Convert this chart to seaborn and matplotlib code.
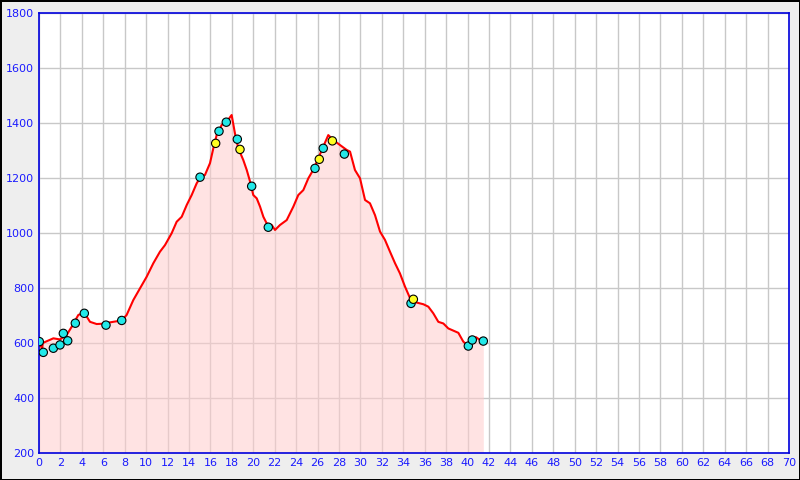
import matplotlib
matplotlib.use('Agg')
import matplotlib.pyplot as plt
import numpy as np
import pandas as pd
import seaborn as sns

# perfil de altura (km, m)
km = [0, 0.3, 0.35, 1.34, 1.96, 2.58, 3.05, 3.67, 4.23, 4.76, 5.38, 5.9, 6.93, 7.72, 8.18, 8.8,
      9.43, 10.05, 10.67, 11.29, 11.76, 12.38, 12.85, 13.32, 13.79, 14.25, 14.72, 15.03, 15.49,
      15.96, 16.27, 16.58, 17.05, 17.52, 17.98, 18.29, 18.6, 19.07, 19.39, 19.7, 20.0, 20.32,
      20.63, 20.94, 21.25, 21.72, 22.03, 22.49, 23.12, 23.74, 24.2, 24.67, 25.14, 25.6, 26.07,
      26.53, 27.0, 27.47, 28.09, 28.72, 29.03, 29.49, 29.96, 30.43, 30.89, 31.36, 31.83, 32.29,
      32.76, 33.23, 33.69, 34.16, 34.63, 35.25, 35.87, 36.34, 36.8, 37.27, 37.74, 38.2, 38.67,
      39.14, 39.6, 40.07, 40.38, 40.79, 41.16, 41.47]
altura = [605, 578, 600, 617, 613, 629, 659, 702, 710, 677, 669, 670, 677, 682, 702, 756,
          799, 841, 890, 932, 956, 999, 1041, 1059, 1102, 1138, 1181, 1200, 1211,
          1254, 1308, 1356, 1393, 1405, 1429, 1362, 1308, 1265, 1229, 1187, 1138, 1126,
          1096, 1059, 1035, 1029, 1011, 1029, 1047, 1096, 1138, 1156, 1199, 1230, 1272,
          1314, 1356, 1338, 1320, 1302, 1296, 1229, 1199, 1120, 1108, 1065, 1005, 975,
          932, 890, 853, 805, 763, 747, 741, 732, 708, 677, 671, 653, 645,
          637, 605, 589, 611, 621, 611, 607]

# puntos de paso
km_cian = [0.03, 0.4, 1.34, 1.96, 2.27, 2.68, 3.39, 4.23, 6.25, 7.72, 15.03, 16.8, 17.48,
           18.51, 19.85, 21.4, 25.76, 26.53, 28.5, 34.72, 40.07, 40.44, 41.47]
alt_cian = [605, 566, 581, 593, 635, 608, 672, 708, 665, 682, 1203, 1370, 1403,
            1341, 1170, 1021, 1235, 1308, 1287, 744, 589, 611, 607]
km_amarillo = [16.49, 18.76, 26.16, 27.38, 34.94]
alt_amarillo = [1326, 1304, 1268, 1335, 759]

perfil = pd.DataFrame({'km': km, 'altura': altura})
puntos = pd.DataFrame({'km': km_cian + km_amarillo,
                       'altura': alt_cian + alt_amarillo,
                       'tipo': ['cian'] * len(km_cian) + ['amarillo'] * len(km_amarillo)})

sns.set_style('white')
fig = plt.figure(figsize=(8, 4.8), dpi=100, facecolor='#eeeeee',
                 edgecolor='black', linewidth=1)
ax = fig.add_axes([39 / 800, 27 / 480, 750 / 800, 440 / 480])
ax.set_facecolor('white')

ax.fill_between(perfil['km'], perfil['altura'], 200, color='#ffcccc', alpha=0.55,
                linewidth=0, zorder=1)
sns.lineplot(data=perfil, x='km', y='altura', color='red', linewidth=1.5, ax=ax, zorder=3)
sns.scatterplot(data=puntos, x='km', y='altura', hue='tipo',
                palette={'cian': '#22e8e8', 'amarillo': '#ffff22'},
                s=36, edgecolor='black', linewidth=0.8, legend=False, ax=ax, zorder=4)

ax.set_xlim(0, 70)
ax.set_ylim(200, 1800)
ax.set_xticks(np.arange(0, 71, 2))
ax.set_yticks(np.arange(200, 1801, 200))
ax.grid(True, color='#c8c8c8', linewidth=1, zorder=0)
ax.set_axisbelow(True)
ax.tick_params(direction='in', colors='#1a1aff', labelsize=8, length=4, width=1)
for s in ax.spines.values():
    s.set_color('#0000dd')
    s.set_linewidth(1.2)
ax.set_xlabel('')
ax.set_ylabel('')

fig.savefig('out.png', dpi=100, facecolor=fig.get_facecolor(), edgecolor=fig.get_edgecolor())
